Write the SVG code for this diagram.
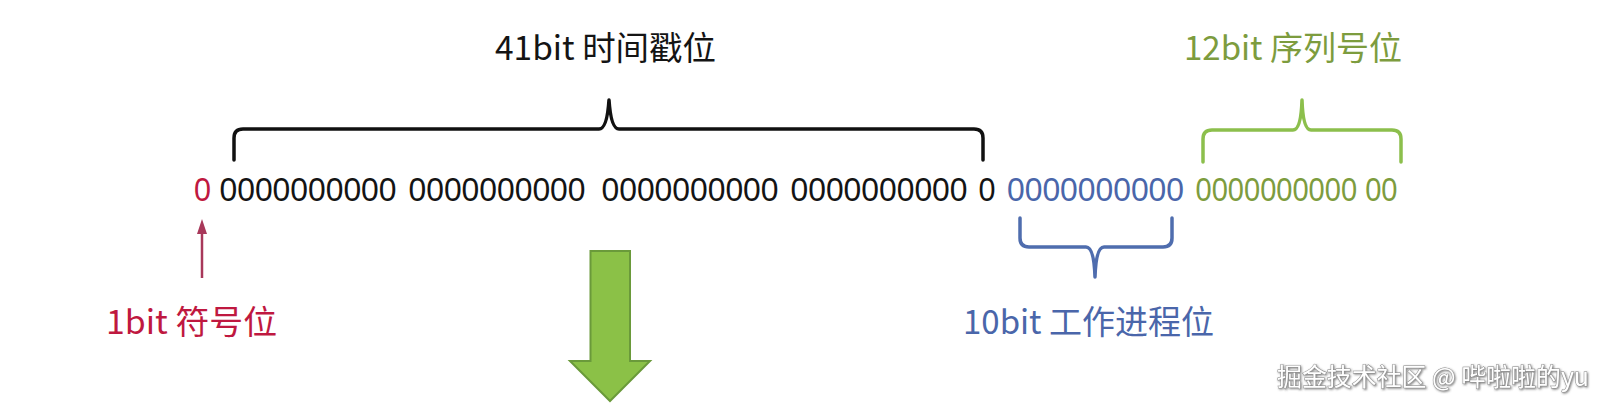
<svg xmlns="http://www.w3.org/2000/svg" width="1607" height="406" viewBox="0 0 1607 406">
  <style>
    .lbl { font-family: "Noto Sans CJK SC", "Liberation Sans", sans-serif; font-size: 33px; }
    .bits { font-family: "Liberation Sans", "DejaVu Sans", sans-serif; font-size: 34px; }
    .blk { fill: #141414; }
    .red { fill: #bf1840; }
    .blu { fill: #4a66aa; }
    .grn { fill: #7d9c3e; }
    .brace { fill: none; stroke-width: 3.5; stroke-linejoin: round; stroke-linecap: round; }
    .wm { font-family: "Noto Sans CJK SC", "Liberation Sans", sans-serif; font-size: 25px; fill: #ffffff; stroke: #8a8a8a; stroke-width: 1; paint-order: stroke; }
  </style>
  <defs>
    <filter id="wmShadow" x="-5%" y="-30%" width="110%" height="160%">
      <feDropShadow dx="1" dy="1" stdDeviation="1" flood-color="#444" flood-opacity="0.7"/>
    </filter>
  </defs>
  <rect width="1607" height="406" fill="#ffffff"/>

  <g id="label-timestamp"><text class="lbl blk" x="495" y="60" textLength="221" lengthAdjust="spacingAndGlyphs">41bit 时间戳位</text></g>
  <g id="label-sequence"><text class="lbl grn" x="1184" y="60" textLength="218" lengthAdjust="spacingAndGlyphs">12bit 序列号位</text></g>
  <g id="label-sign"><text class="lbl red" x="106" y="334" textLength="171" lengthAdjust="spacingAndGlyphs">1bit 符号位</text></g>
  <g id="label-worker"><text class="lbl blu" x="963" y="334" textLength="251" lengthAdjust="spacingAndGlyphs">10bit 工作进程位</text></g>

  <g id="bitstring">
    <text class="bits red" x="194" y="201" textLength="17" lengthAdjust="spacingAndGlyphs">0</text>
    <text class="bits blk" x="219.5" y="201" textLength="177" lengthAdjust="spacingAndGlyphs">0000000000</text>
    <text class="bits blk" x="408.5" y="201" textLength="177" lengthAdjust="spacingAndGlyphs">0000000000</text>
    <text class="bits blk" x="601.5" y="201" textLength="177" lengthAdjust="spacingAndGlyphs">0000000000</text>
    <text class="bits blk" x="790.5" y="201" textLength="177" lengthAdjust="spacingAndGlyphs">0000000000</text>
    <text class="bits blk" x="978.5" y="201" textLength="17" lengthAdjust="spacingAndGlyphs">0</text>
    <text class="bits blu" x="1007" y="201" textLength="177" lengthAdjust="spacingAndGlyphs">0000000000</text>
    <text class="bits grn" x="1195.5" y="201" textLength="202" lengthAdjust="spacingAndGlyphs">0000000000 00</text>
  </g>

  <g id="connectors">
    <path class="brace" stroke="#111111" d="M234,160 L234,138 Q234,129 243,129 L599,129 Q607,129 609,100 Q611,129 619,129 L974,129 Q983,129 983,138 L983,160"/>
    <path class="brace" stroke="#8cbf4c" d="M1203,162 L1203,139 Q1203,130 1212,130 L1293,130 Q1301,130 1302,100 Q1303,130 1311,130 L1392,130 Q1401,130 1401,139 L1401,162"/>
    <path class="brace" stroke="#4f6dae" d="M1020,218 L1020,238 Q1020,247 1029,247 L1086,247 Q1094,247 1095,277 Q1096,247 1104,247 L1163,247 Q1172,247 1172,238 L1172,218"/>
    <line x1="202" y1="278" x2="202" y2="230" stroke="#a8385a" stroke-width="2.5"/>
    <path d="M202,219 L207,234 L197,234 Z" fill="#a8385a"/>
    <path d="M590.5,251 L630,251 L630,361 L650,361 L610,401 L570,361 L590.5,361 Z" fill="#8bc147" stroke="#6a9a3a" stroke-width="2" stroke-linejoin="miter"/>
  </g>

  <g id="watermark" filter="url(#wmShadow)"><text class="wm" x="1277" y="386" textLength="312" lengthAdjust="spacingAndGlyphs">掘金技术社区 @ 哔啦啦的yu</text></g>
</svg>
